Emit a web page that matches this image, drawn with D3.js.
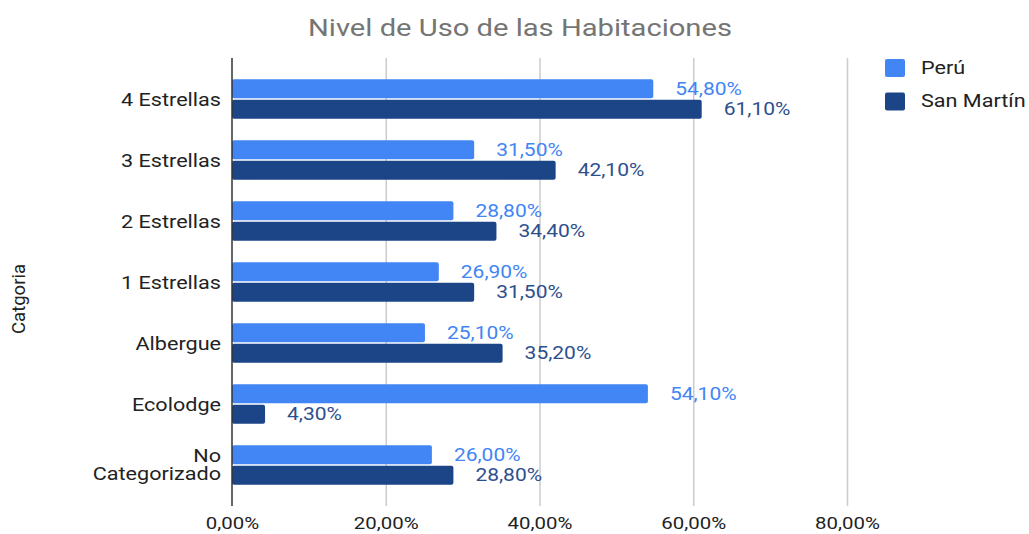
<html lang="es">
<head>
<meta charset="utf-8">
<title>Nivel de Uso de las Habitaciones</title>
<script src="https://d3js.org/d3.v7.min.js"></script>
<style>
  body { margin: 0; background: #fff; }
  text { font-family: Roboto, "Liberation Sans", Arial, sans-serif; }
</style>
</head>
<body>
<div id="chart"></div>
<script>

// data
var categories = ["4 Estrellas", "3 Estrellas", "2 Estrellas", "1 Estrellas", "Albergue", "Ecolodge", "No Categorizado"];
var seriesNames = ["Perú", "San Martín"];
var peru = [54.8, 31.5, 28.8, 26.9, 25.1, 54.1, 26.0];
var sanMartin = [61.1, 42.1, 34.4, 31.5, 35.2, 4.3, 28.8];
var xTicks = [0, 20, 40, 60, 80];

var colors = ["#4285f4", "#1c4587"];
var labelColors = ["#4285f4", "#2d4f8e"];
var SX = 1.2; // the picture's text is a little wider than normal

var W = 1029, H = 534;
var plot = {left: 232, right: 847, top: 58, bottom: 506};

var svg = d3.select("#chart").append("svg")
    .attr("width", W)
    .attr("height", H);

var x = d3.scaleLinear()
  .domain([0, 80])
  .range([plot.left, plot.right]);

var y = d3.scaleBand()
  .domain(categories)
  .range([68.7, 495.7]);

var ySub = d3.scaleBand()
  .domain(seriesNames)
  .range([10.5, 50])
  .paddingInner(0.08);

var pct = function(v) { return v.toFixed(2).replace(".", ",") + "%"; };

// wide text helper
function wideText(sel, px, py, str) {
  return sel.append("text")
    .attr("transform", "translate(" + px + "," + py + ") scale(" + SX + ",1)")
    .text(str);
}

// title
wideText(svg, 520, 36, "Nivel de Uso de las Habitaciones")
  .attr("text-anchor", "middle")
  .attr("font-family", "'Liberation Sans', Arial, sans-serif")
  .attr("font-size", 24.3)
  .attr("fill", "#757575");

// grid lines
var grid = svg.append("g")
  .attr("transform", "translate(0," + plot.bottom + ")")
  .call(d3.axisBottom(x).tickValues(xTicks.slice(1)).tickSize(-(plot.bottom - plot.top)).tickFormat(""));
grid.select(".domain").remove();
grid.selectAll("line").attr("stroke", "#cccccc").attr("stroke-width", 1.5);

// x tick labels
var xAxis = svg.append("g")
  .attr("transform", "translate(0," + plot.bottom + ")")
  .call(d3.axisBottom(x).tickValues(xTicks).tickSize(0).tickPadding(11).tickFormat(pct));
xAxis.select(".domain").remove();
xAxis.selectAll("text")
  .attr("transform", "scale(" + SX + ",1)")
  .attr("font-size", 17)
  .attr("font-family", "Roboto, sans-serif")
  .attr("fill", "#222");

// bars
var rows = categories.map(function(c, i) {
  return {cat: c, values: [peru[i], sanMartin[i]]};
});

var groups = svg.selectAll("g.row")
  .data(rows)
  .enter().append("g")
    .attr("class", "row")
    .attr("transform", function(d) { return "translate(0," + y(d.cat) + ")"; });

groups.selectAll("rect")
  .data(function(d) { return d.values.map(function(v, j) { return {s: seriesNames[j], j: j, v: v}; }); })
  .enter().append("rect")
    .attr("x", x(0))
    .attr("y", function(d) { return ySub(d.s); })
    .attr("width", function(d) { return x(d.v) - x(0); })
    .attr("height", ySub.bandwidth())
    .attr("rx", 2)
    .attr("fill", function(d) { return colors[d.j]; });

// value labels
groups.each(function(d) {
  var g = d3.select(this);
  d.values.forEach(function(v, j) {
    var s = seriesNames[j];
    wideText(g, x(v) + 22, ySub(s) + ySub.bandwidth() / 2 + 6, pct(v))
      .attr("font-size", 17.5)
      .attr("font-family", "Roboto, sans-serif")
      .attr("fill", labelColors[j]);
  });
});

// category labels
groups.each(function(d) {
  var g = d3.select(this);
  var mid = y.bandwidth() / 2;
  var words = d.cat === "No Categorizado" ? ["No", "Categorizado"] : [d.cat];
  words.forEach(function(w, k) {
    var off = words.length === 1 ? 7 : (k === 0 ? -3.5 : 15);
    wideText(g, 221, mid + off, w)
      .attr("text-anchor", "end")
      .attr("font-size", 18)
      .attr("font-family", "'Liberation Sans', Arial, sans-serif")
      .attr("fill", "#222");
  });
});

// zero axis line
svg.append("line")
  .attr("x1", x(0)).attr("x2", x(0))
  .attr("y1", plot.top).attr("y2", plot.bottom)
  .attr("stroke", "#333")
  .attr("stroke-width", 1.5);

// y title
svg.append("text")
  .attr("transform", "translate(25,299) rotate(-90)")
  .attr("text-anchor", "middle")
  .attr("font-size", 18.5)
  .attr("font-family", "Roboto, sans-serif")
  .attr("fill", "#222")
  .text("Catgoria");

// legend
var legend = svg.selectAll("g.legend")
  .data(seriesNames)
  .enter().append("g")
    .attr("class", "legend")
    .attr("transform", function(d, i) { return "translate(885," + (59 + i * 33.5) + ")"; });

legend.append("rect")
  .attr("width", 20)
  .attr("height", 18)
  .attr("rx", 2)
  .attr("fill", function(d, i) { return colors[i]; });

legend.each(function(d) {
  wideText(d3.select(this), 36, 14.5, d)
    .attr("font-size", 18)
    .attr("font-family", "'Liberation Sans', Arial, sans-serif")
    .attr("fill", "#222");
});

</script>
</body>
</html>
